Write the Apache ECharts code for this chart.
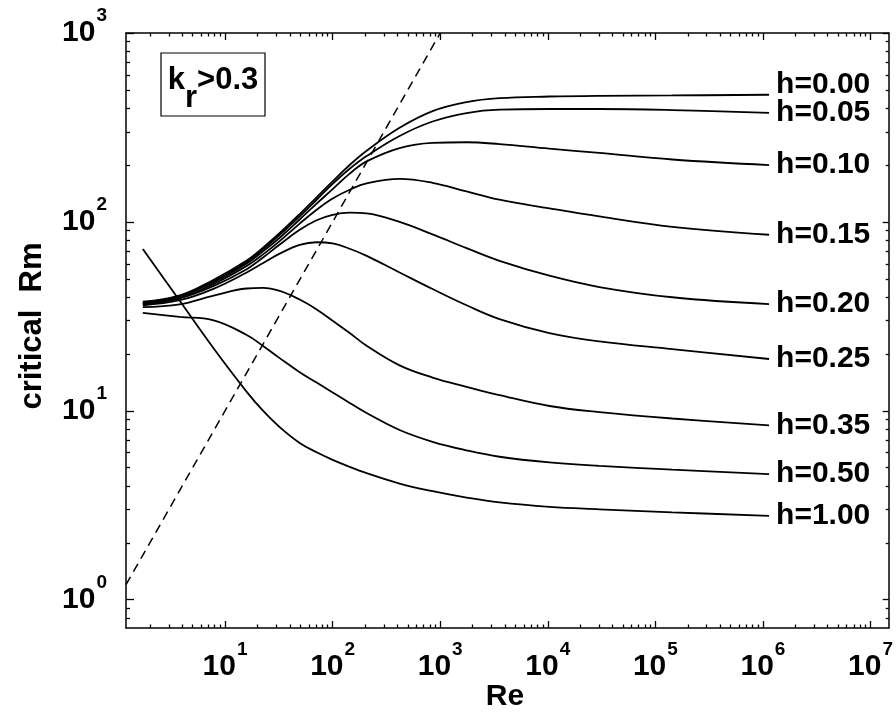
<!DOCTYPE html>
<html><head><meta charset="utf-8">
<script src="https://cdn.jsdelivr.net/npm/echarts@6/dist/echarts.min.js"></script>
<style>html,body{margin:0;padding:0;background:#fff}#c{width:896px;height:715px}</style>
</head><body><div id="c"></div>
<script>
// Reynolds numbers at which every curve was read
const reGrid = [1.72, 3.79, 7.69, 15.9, 22.4, 32.2, 49.4, 71.0, 100, 144, 207, 419, 849, 1757, 3556, 10350, 30130, 143600, 1140000];
// critical Rm for each h
const rm_h000 = [37.8, 40.8, 49.1, 62.4, 72.8, 87.3, 110, 135, 164, 200, 238, 315, 386, 431, 452, 461, 465, 467, 471];
const rm_h005 = [37.4, 40.5, 48.3, 61.4, 71.4, 85.3, 107, 131, 159, 191, 223, 285, 340, 377, 393, 396, 396, 391, 378];
const rm_h010 = [37.2, 40.3, 47.8, 60.3, 69.7, 82.4, 103, 125, 149, 180, 209, 246, 262, 264, 258, 244, 232, 214, 200];
const rm_h015 = [36.9, 39.6, 46.7, 58.5, 67.1, 79.1, 97.9, 116, 133, 148, 160, 169, 161, 145, 131, 118, 107, 94.2, 85.5];
const rm_h020 = [36.6, 39.4, 45.6, 56.2, 64.6, 75.9, 90.8, 102, 109, 112, 111, 100, 85.9, 72.6, 62.2, 51.9, 45.2, 39.9, 36.7];
const rm_h025 = [36.2, 38.5, 44.1, 54.0, 60.4, 67.9, 75.5, 78.0, 76.9, 72.1, 66.1, 54.0, 44.1, 36.2, 30.6, 25.8, 23.3, 21.2, 18.8];
const rm_h035 = [35.4, 36.6, 40.6, 44.4, 44.7, 43.1, 38.8, 34.4, 30.0, 25.8, 22.1, 17.4, 15.0, 13.4, 12.1, 10.6, 9.84, 9.10, 8.38];
const rm_h050 = [33.0, 31.4, 30.2, 25.2, 22.1, 19.0, 16.0, 14.1, 12.5, 11.0, 9.73, 7.91, 6.85, 6.17, 5.71, 5.33, 5.11, 4.88, 4.62];
const rm_h100 = [71.8, 38.2, 21.7, 12.6, 10.05, 8.20, 6.76, 6.03, 5.50, 5.05, 4.68, 4.12, 3.75, 3.47, 3.27, 3.10, 3.01, 2.90, 2.78];
const curveNames = ['h=0.00', 'h=0.05', 'h=0.10', 'h=0.15', 'h=0.20', 'h=0.25', 'h=0.35', 'h=0.50', 'h=1.00'];
const curveValues = [rm_h000, rm_h005, rm_h010, rm_h015, rm_h020, rm_h025, rm_h035, rm_h050, rm_h100];
// dashed line Rm = Re
const dashRe = [1.2, 1000];
const dashRm = [1.2, 1000];
// axis extents and tick exponents
const xRange = [1.2, 1.475e7];
const yRange = [0.708, 1000];
const xMajorExp = [1, 2, 3, 4, 5, 6, 7];
const yMajorExp = [0, 1, 2, 3];
const minorMantissa = [2, 3, 4, 5, 6, 7, 8, 9];

const L = Math.log10;
const FONT = '"Liberation Sans", Arial, Helvetica, sans-serif';
const xMin = L(xRange[0]), xMax = L(xRange[1]);
const yMin = L(yRange[0]), yMax = L(yRange[1]);
function minorTicks(lo, hi) {
  const out = [];
  for (let d = Math.floor(lo) - 1; d <= Math.ceil(hi); d++)
    minorMantissa.forEach(m => { const v = d + L(m); if (v > lo && v < hi) out.push(v); });
  return out;
}
const xMinor = minorTicks(xMin, xMax), yMinor = minorTicks(yMin, yMax);
const labelRich = {
  b: { fontSize: 30, fontWeight: 'bold', fontFamily: FONT, color: '#000' },
  s: { fontSize: 19, fontWeight: 'bold', fontFamily: FONT, color: '#000', padding: [0, 0, 34, 1] }
};
function axis(pos, min, max, opts) {
  const a = {
    type: 'value', position: pos, min: min, max: max, scale: true,
    splitLine: { show: false },
    axisLine: { show: !!opts.line, onZero: false, lineStyle: { color: '#000', width: 1.5 } },
    axisTick: { show: true, inside: true, length: opts.len, customValues: opts.ticks, lineStyle: { color: '#000', width: 1.3 } },
    axisLabel: { show: false }
  };
  if (opts.labels) {
    a.axisLabel = {
      show: true, customValues: opts.labels, margin: opts.margin,
      formatter: v => '{b|10}{s|' + Math.round(v) + '}', rich: labelRich
    };
  }
  return a;
}
const series = curveValues.map((vals, i) => ({
  type: 'line', name: curveNames[i], xAxisIndex: 0, yAxisIndex: 0,
  data: reGrid.map((re, j) => [L(re), L(vals[j])]),
  smooth: 0.4, showSymbol: false, symbol: 'none',
  lineStyle: { color: '#000', width: 1.8 },
  endLabel: {
    show: true, formatter: curveNames[i], distance: 7,
    offset: i === 0 ? [0, -10] : [0, 0],
    fontSize: 30, fontWeight: 'bold', fontFamily: FONT, color: '#000'
  }
}));
series.push({
  type: 'line', xAxisIndex: 0, yAxisIndex: 0,
  data: dashRe.map((re, j) => [L(re), L(dashRm[j])]),
  showSymbol: false, symbol: 'none',
  lineStyle: { color: '#000', width: 1.5, type: [9, 6] }
});
const chart = echarts.init(document.getElementById('c'), null, { renderer: 'canvas' });
chart.setOption({
  animation: false,
  backgroundColor: '#fff',
  grid: { left: 126, top: 33, width: 764.5, height: 595, containLabel: false },
  xAxis: [
    axis('bottom', xMin, xMax, { line: true, len: 7, ticks: xMajorExp, labels: xMajorExp, margin: 12 }),
    axis('bottom', xMin, xMax, { len: 3.5, ticks: xMinor }),
    axis('top', xMin, xMax, { line: true, len: 7, ticks: xMajorExp }),
    axis('top', xMin, xMax, { len: 3.5, ticks: xMinor })
  ],
  yAxis: [
    axis('left', yMin, yMax, { line: true, len: 8, ticks: yMajorExp, labels: yMajorExp, margin: 19 }),
    axis('left', yMin, yMax, { len: 4, ticks: yMinor }),
    axis('right', yMin, yMax, { line: true, len: 6, ticks: yMajorExp }),
    axis('right', yMin, yMax, { len: 3, ticks: yMinor })
  ],
  series: series,
  graphic: [
    { type: 'text', x: 505, y: 697, style: { text: 'Re', font: 'bold 30px ' + FONT, fill: '#000', align: 'center', verticalAlign: 'middle', textAlign: 'center', textVerticalAlign: 'middle' } },
    { type: 'text', x: 32, y: 326, rotation: Math.PI / 2, style: { text: 'critical  Rm', font: 'bold 31px ' + FONT, fill: '#000', align: 'center', verticalAlign: 'middle', textAlign: 'center', textVerticalAlign: 'middle' } },
    { type: 'rect', shape: { x: 161, y: 53, width: 104, height: 63 }, style: { fill: 'none', stroke: '#000', lineWidth: 1.2 } },
    { type: 'text', x: 213, y: 80, style: {
        text: '{a|k}{r|r}{a|>0.3}', align: 'center', verticalAlign: 'middle',
        rich: {
          a: { fontSize: 31, fontWeight: 'bold', fontFamily: FONT, fill: '#000', color: '#000' },
          r: { fontSize: 31, fontWeight: 'bold', fontFamily: FONT, fill: '#000', color: '#000', padding: [36, 0, 0, 0] }
        } } }
  ]
});
</script></body></html>
